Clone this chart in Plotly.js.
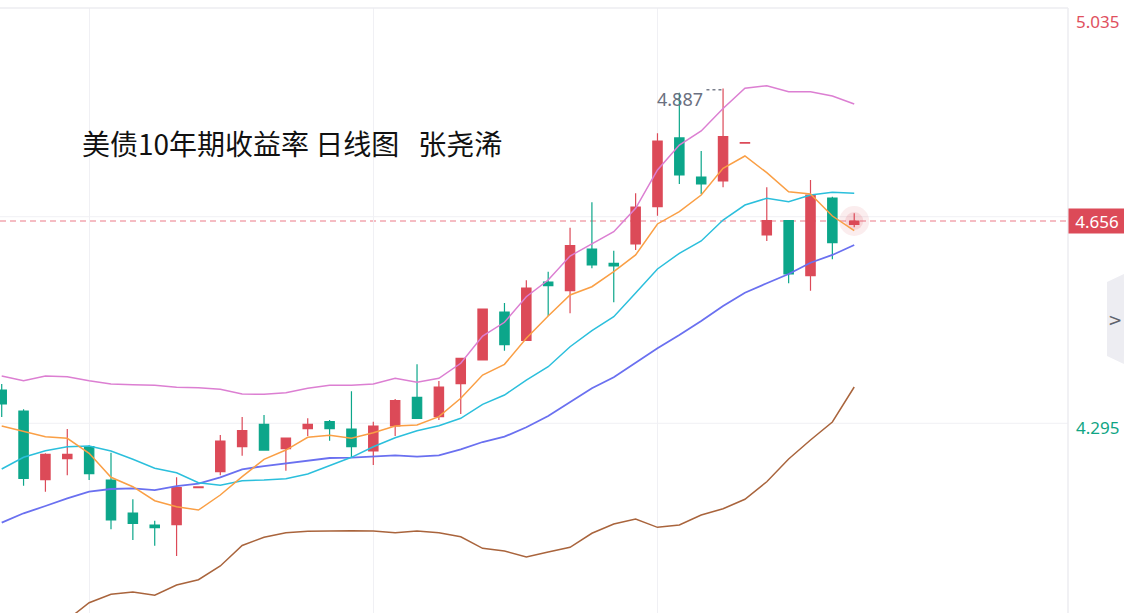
<!DOCTYPE html>
<html>
<head>
<meta charset="utf-8">
<script src="https://cdn.plot.ly/plotly-3.0.1.min.js"></script>
<style>
html,body{margin:0;padding:0;background:#fff;}
#chart{width:1124px;height:613px;}
</style>
</head>
<body>
<div id="chart"></div>
<script>
// Trading-day index of each candle (40 daily candles)
const days = [0,1,2,3,4,5,6,7,8,9,10,11,12,13,14,15,16,17,18,19,20,21,22,23,24,25,26,27,28,29,30,31,32,33,34,35,36,37,38,39];

const opens = [4.3611,4.3244,4.2045,4.2412,4.2621,4.2040,4.1464,4.1255,4.1260,4.1905,
               4.2185,4.2621,4.3012,4.2586,4.2935,4.3057,4.2930,4.2546,4.2982,4.3483,
               4.3145,4.3721,4.4134,4.4972,4.4478,4.5495,4.5344,4.6071,4.5822,4.6159,
               4.6810,4.8009,4.7328,4.7258,4.7920,4.6316,4.6565,4.5605,4.6961,4.6500];
const highs = [4.3715,4.3274,4.2506,4.2930,4.2646,4.2516,4.1703,4.1330,4.2087,4.1930,
               4.2825,4.3140,4.3174,4.2780,4.3117,4.3087,4.3588,4.3057,4.3454,4.4059,
               4.3768,4.4164,4.5024,4.5129,4.5525,4.5675,4.6443,4.6886,4.6042,4.7043,
               4.8091,4.8800,4.7782,4.8870,4.7935,4.7148,4.6565,4.7276,4.6984,4.6694];
const lows  = [4.3139,4.1940,4.1836,4.2122,4.2040,4.1180,4.0993,4.0893,4.0714,4.1895,
               4.2122,4.2464,4.2563,4.2202,4.2808,4.2726,4.2436,4.2302,4.2808,4.3117,
               4.3087,4.3192,4.4134,4.4296,4.4478,4.4902,4.4949,4.5735,4.5141,4.6054,
               4.6652,4.7206,4.7031,4.7148,4.7915,4.6211,4.5473,4.5344,4.5892,4.6450];
const closes= [4.3366,4.2070,4.2488,4.2488,4.2150,4.1342,4.1284,4.1208,4.1906,4.1920,
               4.2721,4.2900,4.2563,4.2773,4.3012,4.2935,4.2621,4.2982,4.3424,4.3117,
               4.3663,4.4164,4.5024,4.4401,4.5391,4.5431,4.6129,4.5792,4.5775,4.6804,
               4.7956,4.7363,4.7206,4.8031,4.7930,4.6565,4.5635,4.7014,4.6181,4.6560];

const ma5  = [4.2982,4.2883,4.2796,4.2768,4.2506,4.2087,4.1923,4.1679,4.1574,4.1516,
              4.1778,4.2098,4.2401,4.2563,4.2785,4.2820,4.2768,4.2865,4.2982,4.3000,
              4.3145,4.3466,4.3872,4.4059,4.4513,4.4902,4.5269,4.5413,4.5675,4.5967,
              4.6508,4.6722,4.7014,4.7480,4.7694,4.7403,4.7071,4.7031,4.6647,4.6391];
const ma10 = [4.2232,4.2436,4.2551,4.2621,4.2633,4.2546,4.2401,4.2244,4.2167,4.1993,
              4.1947,4.2028,4.2040,4.2063,4.2145,4.2284,4.2436,4.2621,4.2778,4.2900,
              4.2988,4.3117,4.3361,4.3523,4.3785,4.4017,4.4366,4.4646,4.4890,4.5303,
              4.5722,4.5996,4.6211,4.6577,4.6839,4.6956,4.6897,4.7014,4.7061,4.7043];
const ma20 = [4.1295,4.1459,4.1586,4.1721,4.1836,4.1883,4.1895,4.1865,4.1935,4.1975,
              4.2087,4.2227,4.2284,4.2331,4.2389,4.2424,4.2429,4.2447,4.2471,4.2447,
              4.2471,4.2576,4.2703,4.2796,4.2960,4.3157,4.3406,4.3640,4.3832,4.4087,
              4.4338,4.4570,4.4815,4.5077,4.5309,4.5473,4.5635,4.5832,4.5967,4.6141];
const bollUpper = [4.3855,4.3773,4.3855,4.3843,4.3773,4.3715,4.3703,4.3693,4.3658,4.3651,
              4.3623,4.3541,4.3536,4.3563,4.3640,4.3693,4.3693,4.3715,4.3815,4.3745,
              4.3815,4.4077,4.4553,4.4792,4.5239,4.5530,4.5949,4.6159,4.6373,4.6782,
              4.7450,4.7886,4.8131,4.8523,4.8876,4.8921,4.8817,4.8817,4.8742,4.8602];
const bollLower = [3.8740,3.9150,3.9320,3.9600,3.9899,4.0045,4.0085,4.0028,4.0207,4.0300,
              4.0539,4.0897,4.1040,4.1120,4.1145,4.1155,4.1155,4.1150,4.1120,4.1150,
              4.1120,4.1050,4.0848,4.0801,4.0696,4.0783,4.0865,4.1110,4.1272,4.1359,
              4.1214,4.1255,4.1429,4.1539,4.1703,4.2010,4.2406,4.2738,4.3052,4.3663];

const axisTop = "5.035";
const axisLow = 4.295;
const titleText = "美债10年期收益率 日线图&nbsp;&nbsp;&nbsp;张尧浠";

const RED = "#dc4a58", GREEN = "#0ca68a";
const last = closes.length - 1;
const hiIdx = highs.indexOf(Math.max(...highs));
const hiVal = highs[hiIdx];

const traces = [
  {type:"scatter", mode:"markers", x:[days[last]], y:[closes[last]], hoverinfo:"skip",
   marker:{size:30, color:"rgba(220,74,88,0.10)", line:{width:0}}},
  {type:"scatter", mode:"markers", x:[days[last]], y:[closes[last]], hoverinfo:"skip",
   marker:{size:18, color:"rgba(220,74,88,0.14)", line:{width:0}}},
  {type:"candlestick", x:days, open:opens, high:highs, low:lows, close:closes,
   increasing:{line:{color:RED, width:1.2}, fillcolor:RED},
   decreasing:{line:{color:GREEN, width:1.2}, fillcolor:GREEN},
   whiskerwidth:0, hoverinfo:"skip"},
  {type:"scatter", mode:"lines", x:days, y:bollLower, line:{color:"#a9643c", width:1.5}, hoverinfo:"skip"},
  {type:"scatter", mode:"lines", x:days, y:bollUpper, line:{color:"#dc7fd2", width:1.5}, hoverinfo:"skip"},
  {type:"scatter", mode:"lines", x:days, y:ma20, line:{color:"#6a70f0", width:1.8}, hoverinfo:"skip"},
  {type:"scatter", mode:"lines", x:days, y:ma10, line:{color:"#2bbfdc", width:1.5}, hoverinfo:"skip"},
  {type:"scatter", mode:"lines", x:days, y:ma5, line:{color:"#fa9f45", width:1.5}, hoverinfo:"skip"}
];

const gridC = "#f0f0f4";
const layout = {
  width:1124, height:613,
  margin:{l:0, r:56, t:8, b:0, pad:0},
  paper_bgcolor:"#ffffff", plot_bgcolor:"#ffffff",
  showlegend:false,
  boxgap:0.39,
  title:{text:titleText, x:82/1124, xanchor:"left", xref:"container",
         y:1-145/613, yanchor:"middle", yref:"container",
         font:{family:"Noto Sans CJK SC", size:28, color:"#111111"}},
  xaxis:{range:[-0.078, 48.78], tickvals:[4,17,30], showticklabels:false,
         showgrid:true, gridcolor:gridC, gridwidth:1, zeroline:false, showline:false,
         rangeslider:{visible:false}, fixedrange:true},
  yaxis:{range:[3.9719, 5.0277], side:"right", showticklabels:false, showgrid:false,
         zeroline:false, showline:false, fixedrange:true},
  shapes:[
    {type:"line", xref:"paper", yref:"paper", x0:0, x1:1, y0:(613-216.7)/605, y1:(613-216.7)/605, line:{color:gridC, width:1}, layer:"below"},
    {type:"line", xref:"paper", yref:"paper", x0:0, x1:1, y0:(613-423.3)/605, y1:(613-423.3)/605, line:{color:gridC, width:1}, layer:"below"},
    {type:"line", xref:"paper", yref:"paper", x0:0, x1:1, y0:1, y1:1, line:{color:"#ececf1", width:1.5}},
    {type:"line", xref:"paper", yref:"paper", x0:1, x1:1, y0:0, y1:1, line:{color:"#ececf1", width:1.5}},
    {type:"line", xref:"paper", yref:"y", x0:0, x1:1, y0:closes[last], y1:closes[last],
     line:{color:"#f2a6b0", width:1.3, dash:"6px,4px"}, layer:"below"},
    {type:"line", xref:"x", yref:"y", x0:hiIdx-0.76, x1:hiIdx, y0:hiVal-0.002, y1:hiVal-0.002,
     line:{color:"#7a7f8c", width:1.5, dash:"dot"}},
    {type:"path", xref:"paper", yref:"paper",
     path:"M 1.0365 "+((613-282)/605)+" L 1.0524 "+((613-274)/605)+" L 1.0524 "+((613-364)/605)+" L 1.0365 "+((613-356)/605)+" Z",
     fillcolor:"#ededf2", line:{width:0}}
  ],
  annotations:[
    {xref:"paper", yref:"paper", x:1, xanchor:"left", xshift:6, y:(613-22)/605, yanchor:"middle",
     text:axisTop, showarrow:false, font:{family:"Noto Sans", size:17, color:"#e0505e"}},
    {xref:"paper", yref:"y", x:1, xanchor:"left", xshift:6, y:axisLow, yanchor:"middle",
     text:String(axisLow), showarrow:false, font:{family:"Noto Sans", size:17, color:"#0fa584"}},
    {xref:"paper", yref:"y", x:1, xanchor:"left", y:closes[last], yanchor:"middle",
     text:closes[last].toFixed(3), showarrow:false, bgcolor:RED, width:52, height:20, borderpad:2,
     font:{family:"Noto Sans", size:17, color:"#ffffff"}},
    {xref:"x", yref:"y", x:hiIdx-0.82, xanchor:"right", y:hiVal, yanchor:"top", yshift:4,
     text:hiVal.toFixed(3), showarrow:false, font:{family:"Noto Sans", size:18, color:"#6b7080"}},
    {xref:"paper", yref:"paper", x:1.0438, xanchor:"center", y:(613-320)/605, yanchor:"middle",
     text:"&gt;", showarrow:false, borderpad:0, font:{family:"DejaVu Sans", size:17, color:"#5f636e"}}
  ]
};

Plotly.newPlot("chart", traces, layout, {staticPlot:true, displayModeBar:false});
</script>
</body>
</html>
